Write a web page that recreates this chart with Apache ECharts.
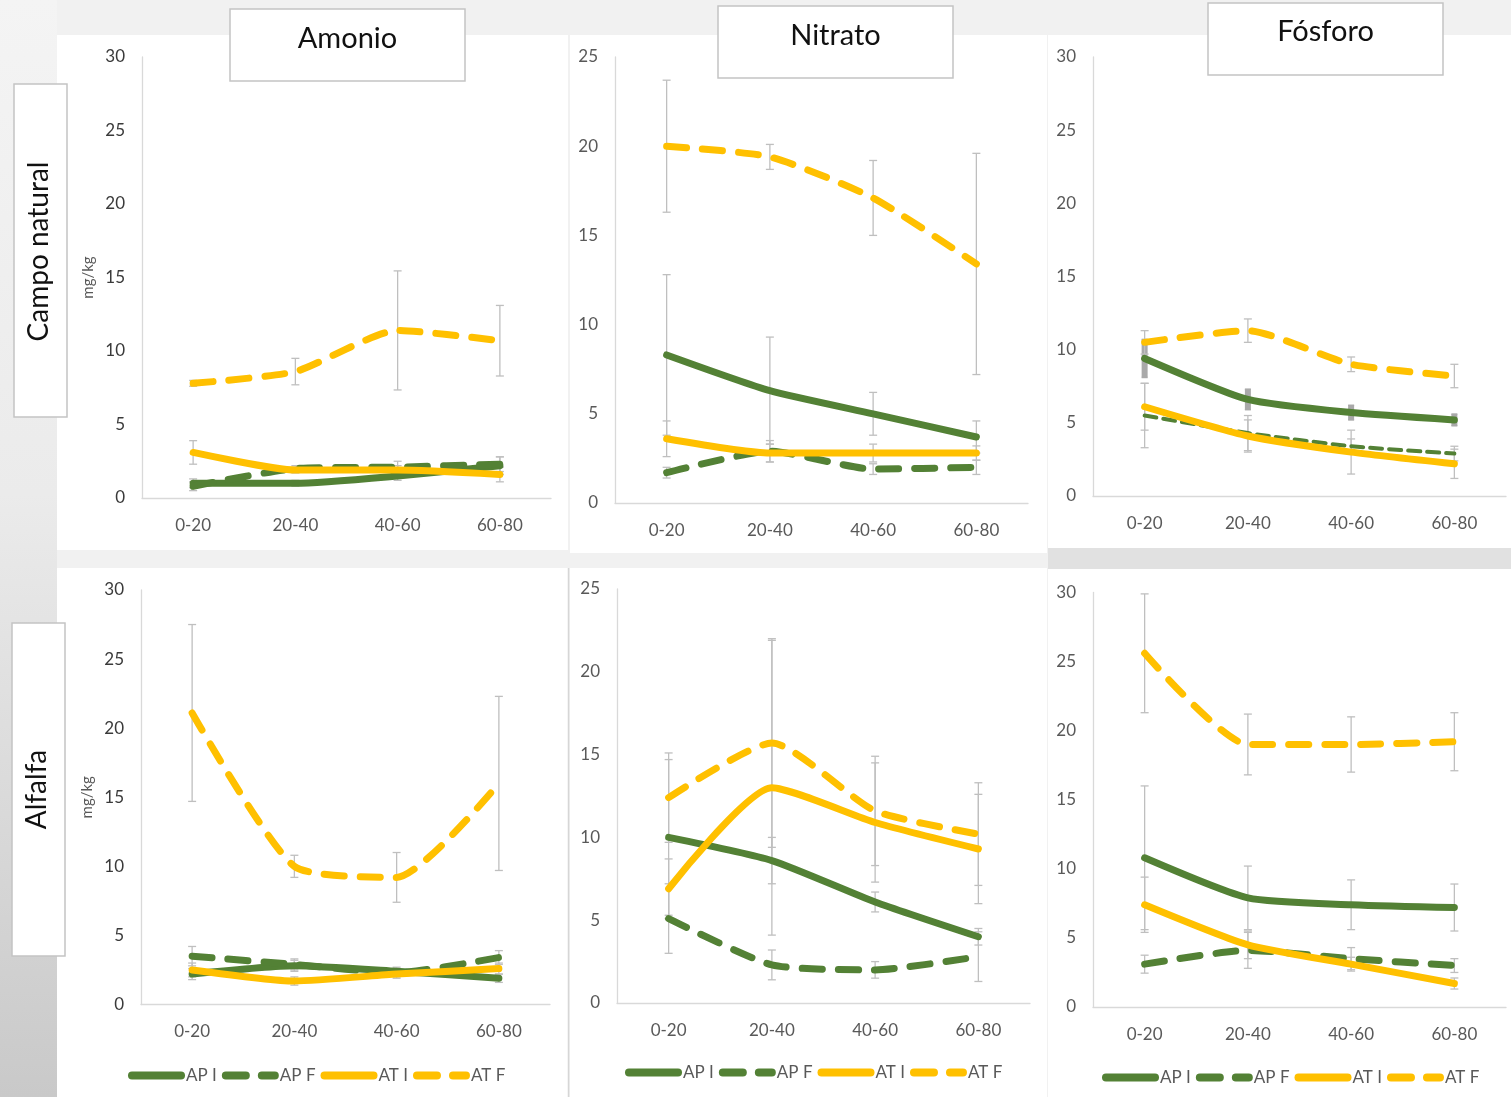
<!DOCTYPE html>
<html>
<head>
<meta charset="utf-8">
<script src="https://cdn.jsdelivr.net/npm/echarts@6/dist/echarts.min.js"></script>
<style>
  html, body { margin: 0; padding: 0; background: #f1f1f1; }
  #chart { width: 1511px; height: 1097px; }
</style>
</head>
<body>
<div id="chart"></div>
<script>
// Soil depth classes (cm) and treatments
const depths = ['0-20', '20-40', '40-60', '60-80'];
const seriesNames = ['AP I', 'AP F', 'AT I', 'AT F'];
const nutrients = ['Amonio', 'Nitrato', 'Fósforo'];
const sites = ['Campo natural', 'Alfalfa'];
const yMaxByNutrient = [30, 25, 30];
const yStep = 5;
const unitLabel = 'mg/kg';

// Campo natural — Amonio (mean, ± error)
const cnAmonioAPI = [1.0, 1.0, 1.5, 2.2];
const cnAmonioAPF = [0.8, 2.0, 2.1, 2.3];
const cnAmonioATI = [3.1, 1.9, 1.9, 1.6];
const cnAmonioATF = [7.8, 8.6, 11.4, 10.7];
const cnAmonioAPIerr = [0.3, 0.2, 0.3, 0.6];
const cnAmonioAPFerr = [0.3, 0.2, 0.4, 0.5];
const cnAmonioATIerr = [0.8, 0.2, 0.3, 0.5];
const cnAmonioATFerr = [0.2, 0.9, 4.05, 2.4];

// Campo natural — Nitrato
const cnNitratoAPI = [8.3, 6.3, 5.0, 3.7];
const cnNitratoAPF = [1.7, 2.9, 1.9, 2.0];
const cnNitratoATI = [3.6, 2.8, 2.8, 2.8];
const cnNitratoATF = [20.0, 19.4, 17.1, 13.4];
const cnNitratoAPIerr = [4.5, 3.0, 1.2, 0.9];
const cnNitratoAPFerr = [0.3, 0.6, 0.3, 0.4];
const cnNitratoATIerr = [1.0, 0.5, 0.5, 0.4];
const cnNitratoATFerr = [3.7, 0.7, 2.1, 6.2];

// Campo natural — Fósforo
const cnFosforoAPI = [9.4, 6.6, 5.7, 5.2];
const cnFosforoAPF = [5.5, 4.3, 3.4, 2.9];
const cnFosforoATI = [6.1, 4.1, 3.0, 2.2];
const cnFosforoATF = [10.5, 11.3, 9.0, 8.2];
const cnFosforoAPIerr = [1.3, 0.7, 0.5, 0.4];
const cnFosforoAPFerr = [2.2, 1.2, 0.5, 0.5];
const cnFosforoATIerr = [1.6, 1.1, 1.5, 1.0];
const cnFosforoATFerr = [0.8, 0.8, 0.5, 0.8];

// Alfalfa — Amonio
const alAmonioAPI = [2.2, 2.8, 2.4, 1.9];
const alAmonioAPF = [3.5, 2.9, 2.3, 3.4];
const alAmonioATI = [2.5, 1.7, 2.2, 2.6];
const alAmonioATF = [21.1, 10.0, 9.2, 16.0];
const alAmonioAPIerr = [0.4, 0.4, 0.3, 0.3];
const alAmonioAPFerr = [0.7, 0.4, 0.3, 0.5];
const alAmonioATIerr = [0.5, 0.3, 0.3, 0.4];
const alAmonioATFerr = [6.4, 0.8, 1.8, 6.3];

// Alfalfa — Nitrato
const alNitratoAPI = [10.0, 8.6, 6.1, 4.0];
const alNitratoAPF = [5.1, 2.3, 2.0, 2.8];
const alNitratoATI = [6.9, 13.0, 10.9, 9.3];
const alNitratoATF = [12.4, 15.7, 11.6, 10.2];
const alNitratoAPIerr = [4.7, 1.4, 0.6, 0.5];
const alNitratoAPFerr = [2.1, 0.9, 0.5, 1.5];
const alNitratoATIerr = [1.8, 8.9, 3.6, 3.3];
const alNitratoATFerr = [2.7, 6.3, 3.3, 3.1];

// Alfalfa — Fósforo
const alFosforoAPI = [10.8, 7.9, 7.4, 7.2];
const alFosforoAPF = [3.1, 4.1, 3.5, 3.0];
const alFosforoATI = [7.4, 4.5, 3.1, 1.7];
const alFosforoATF = [25.6, 19.0, 19.0, 19.2];
const alFosforoAPIerr = [5.2, 2.3, 1.8, 1.7];
const alFosforoAPFerr = [0.65, 1.3, 0.8, 0.5];
const alFosforoATIerr = [2.0, 1.0, 0.5, 0.4];
const alFosforoATFerr = [4.3, 2.2, 2.0, 2.1];

// ---- styling ----
const GREEN = '#538135';
const YELLOW = '#FFC000';
const AXIS_GREY = '#d9d9d9';
const LABEL_GREY = '#595959';
const ERR_GREY = '#bfbfbf';
const FONT = 'Lato, "Open Sans", sans-serif';

const panels = [
  { vals: [cnAmonioAPI, cnAmonioAPF, cnAmonioATI, cnAmonioATF],
    errs: [cnAmonioAPIerr, cnAmonioAPFerr, cnAmonioATIerr, cnAmonioATFerr],
    grid: { left: 142, top: 57, width: 409, height: 441 } },
  { vals: [cnNitratoAPI, cnNitratoAPF, cnNitratoATI, cnNitratoATF],
    errs: [cnNitratoAPIerr, cnNitratoAPFerr, cnNitratoATIerr, cnNitratoATFerr],
    grid: { left: 615, top: 57, width: 413, height: 446 } },
  { vals: [cnFosforoAPI, cnFosforoAPF, cnFosforoATI, cnFosforoATF],
    errs: [cnFosforoAPIerr, cnFosforoAPFerr, cnFosforoATIerr, cnFosforoATFerr],
    grid: { left: 1093, top: 57, width: 413, height: 439 },
    thinAPF: true, thickAPIerr: true },
  { vals: [alAmonioAPI, alAmonioAPF, alAmonioATI, alAmonioATF],
    errs: [alAmonioAPIerr, alAmonioAPFerr, alAmonioATIerr, alAmonioATFerr],
    grid: { left: 141, top: 590, width: 409, height: 414.5 } },
  { vals: [alNitratoAPI, alNitratoAPF, alNitratoATI, alNitratoATF],
    errs: [alNitratoAPIerr, alNitratoAPFerr, alNitratoATIerr, alNitratoATFerr],
    grid: { left: 617, top: 589, width: 413, height: 414 } },
  { vals: [alFosforoAPI, alFosforoAPF, alFosforoATI, alFosforoATF],
    errs: [alFosforoAPIerr, alFosforoAPFerr, alFosforoATIerr, alFosforoATFerr],
    grid: { left: 1093, top: 592.5, width: 413, height: 414.5 } }
];

const lineLooks = [
  { color: GREEN, type: 'solid' },
  { color: GREEN, type: [20, 16] },
  { color: YELLOW, type: 'solid' },
  { color: YELLOW, type: [20, 16] }
];

const grids = [], xAxes = [], yAxes = [], series = [];

panels.forEach((p, i) => {
  const col = i % 3;
  grids.push(Object.assign({ containLabel: false }, p.grid));
  xAxes.push({
    type: 'category', gridIndex: i, data: depths, boundaryGap: true,
    axisLine: { lineStyle: { color: AXIS_GREY, width: 1.3 } },
    axisTick: { show: false },
    axisLabel: { color: LABEL_GREY, fontSize: 17, fontFamily: FONT, margin: 19 }
  });
  yAxes.push({
    type: 'value', gridIndex: i, min: 0, max: yMaxByNutrient[col], interval: yStep,
    axisLine: { show: true, lineStyle: { color: AXIS_GREY, width: 1.3 } },
    axisTick: { show: false },
    splitLine: { show: false },
    axisLabel: { color: col === 0 ? '#3a3a3a' : LABEL_GREY, fontSize: 17, fontFamily: FONT, margin: 17 },
    name: col === 0 ? unitLabel : '',
    nameLocation: 'middle', nameRotate: 90, nameGap: 46,
    nameTextStyle: { color: '#595959', fontSize: 15, fontFamily: FONT }
  });

  // error bars (drawn under the lines)
  p.vals.forEach((v, j) => {
    const e = p.errs[j];
    const thick = p.thickAPIerr && j === 0;
    series.push({
      type: 'custom', xAxisIndex: i, yAxisIndex: i, z: 1, silent: true,
      encode: { x: 0, y: [1, 2] },
      data: depths.map((d, k) => [k, v[k] - e[k], v[k] + e[k]]),
      renderItem: (params, api) => {
        const k = api.value(0);
        const lo = api.coord([k, api.value(1)]);
        const hi = api.coord([k, api.value(2)]);
        const w = thick ? 3 : 4;
        const stroke = thick ? '#a9a9a9' : ERR_GREY;
        const capStyle = { stroke, lineWidth: thick ? 1.5 : 1.3 };
        return {
          type: 'group',
          children: [
            { type: 'line', shape: { x1: lo[0], y1: lo[1], x2: hi[0], y2: hi[1] }, style: { stroke, lineWidth: thick ? 6 : 1.3 } },
            { type: 'line', shape: { x1: lo[0] - w, y1: lo[1], x2: lo[0] + w, y2: lo[1] }, style: capStyle },
            { type: 'line', shape: { x1: hi[0] - w, y1: hi[1], x2: hi[0] + w, y2: hi[1] }, style: capStyle }
          ]
        };
      }
    });
  });

  // mean lines
  p.vals.forEach((v, j) => {
    const look = lineLooks[j];
    const thin = p.thinAPF && j === 1;
    series.push({
      type: 'line', name: seriesNames[j], xAxisIndex: i, yAxisIndex: i,
      data: v, symbol: 'none', smooth: 0.2, z: 3 + j,
      lineStyle: {
        color: look.color, width: thin ? 4 : 7,
        type: thin ? [12, 7] : look.type, cap: 'round', join: 'round'
      },
      itemStyle: { color: look.color }
    });
  });
});

const legendBase = {
  data: seriesNames, itemWidth: 49, itemHeight: 14, itemGap: 5, padding: 0,
  textStyle: { fontSize: 17, color: LABEL_GREY, fontFamily: FONT },
  itemStyle: { opacity: 0 },
  lineStyle: { width: 8, cap: 'round' }
};
const legends = [
  Object.assign({ left: 128, top: 1067 }, legendBase),
  Object.assign({ left: 625, top: 1064 }, legendBase),
  Object.assign({ left: 1102, top: 1069 }, legendBase)
];

// page furniture: panel backgrounds, header boxes and row labels
const titleBoxes = [
  { x: 230, y: 9, cy: 39 }, { x: 718, y: 6, cy: 36 }, { x: 1208, y: 3, cy: 32 }
];
const rowBoxes = [
  { x: 14, y: 84, h: 333, cx: 39 }, { x: 12, y: 623, h: 333, cx: 37 }
];

const graphic = [
  { type: 'rect', z: -10, shape: { x: 0, y: 0, width: 57, height: 1097 },
    style: { fill: new echarts.graphic.LinearGradient(0, 0, 0, 1, [
      { offset: 0, color: '#f4f4f4' }, { offset: 0.45, color: '#ebebeb' }, { offset: 1, color: '#c9c9c9' }]) } },
  { type: 'rect', z: -10, shape: { x: 57, y: 35, width: 511, height: 515 }, style: { fill: '#ffffff' } },
  { type: 'rect', z: -10, shape: { x: 570, y: 35, width: 477, height: 518 }, style: { fill: '#ffffff' } },
  { type: 'rect', z: -10, shape: { x: 1048, y: 35, width: 463, height: 513 }, style: { fill: '#ffffff' } },
  { type: 'rect', z: -10, shape: { x: 1048, y: 548, width: 463, height: 21 }, style: { fill: '#e1e1e1' } },
  { type: 'rect', z: -10, shape: { x: 57, y: 568, width: 511, height: 529 }, style: { fill: '#ffffff' } },
  { type: 'rect', z: -10, shape: { x: 570, y: 568, width: 477, height: 529 }, style: { fill: '#ffffff' } },
  { type: 'rect', z: -10, shape: { x: 1048, y: 569, width: 463, height: 528 }, style: { fill: '#ffffff' } },
  { type: 'line', z: -9, shape: { x1: 568.5, y1: 568, x2: 568.5, y2: 1097 }, style: { stroke: '#d6d6d6', lineWidth: 1.5 } }
];
titleBoxes.forEach((b, k) => {
  graphic.push({ type: 'rect', z: 50, shape: { x: b.x, y: b.y, width: 235, height: 72 },
    style: { fill: '#ffffff', stroke: '#c4c4c4', lineWidth: 1.5 } });
  graphic.push({ type: 'text', z: 51, x: b.x + 117.5, y: b.cy,
    style: { text: nutrients[k], fill: '#111111', fontSize: 29, fontFamily: FONT, align: 'center', verticalAlign: 'middle' } });
});
rowBoxes.forEach((b, k) => {
  graphic.push({ type: 'rect', z: 50, shape: { x: b.x, y: b.y, width: 53, height: b.h },
    style: { fill: '#ffffff', stroke: '#c4c4c4', lineWidth: 1.5 } });
  graphic.push({ type: 'text', z: 51, x: b.cx, y: b.y + b.h / 2 + (k === 0 ? 1 : 0), rotation: Math.PI / 2,
    style: { text: sites[k], fill: '#111111', fontSize: 28, fontFamily: FONT, align: 'center', verticalAlign: 'middle' } });
});

const chart = echarts.init(document.getElementById('chart'), null, { renderer: 'canvas' });
chart.setOption({
  backgroundColor: '#f1f1f1',
  animation: false,
  grid: grids,
  xAxis: xAxes,
  yAxis: yAxes,
  legend: legends,
  graphic: graphic,
  series: series
});
</script>
</body>
</html>
